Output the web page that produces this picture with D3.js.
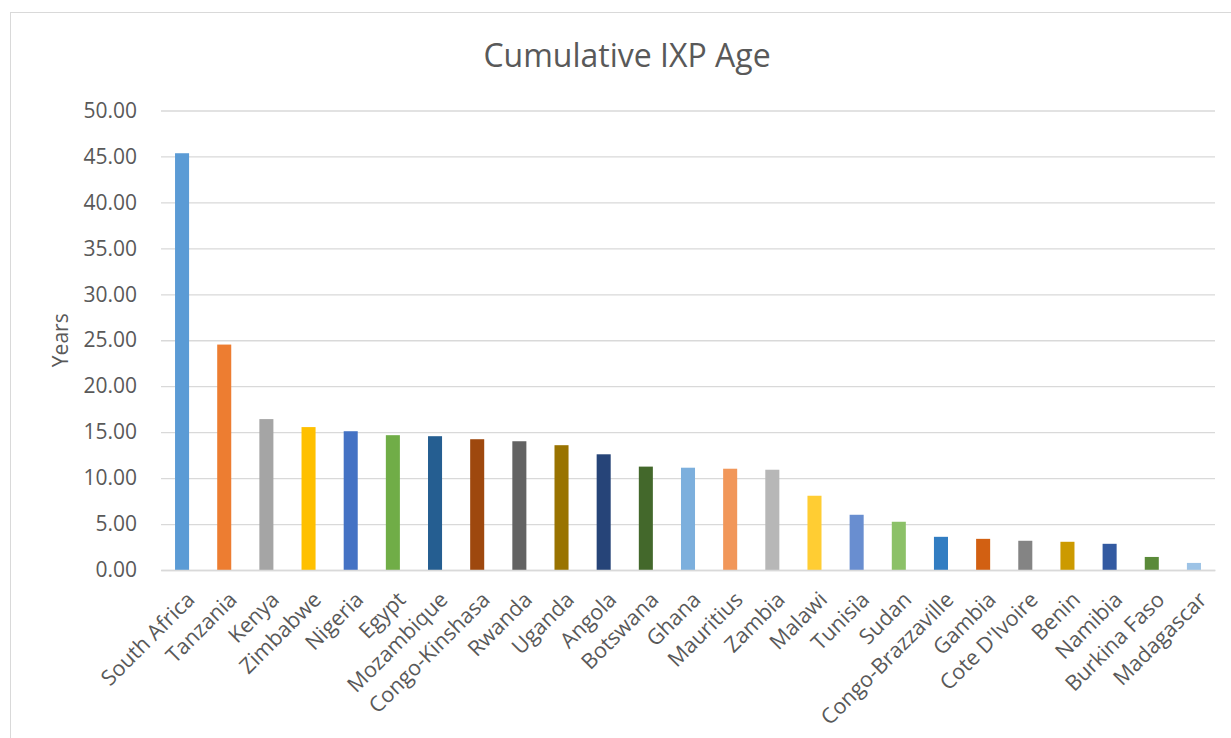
<!DOCTYPE html>
<html>
<head>
<meta charset="utf-8">
<script src="https://cdn.jsdelivr.net/npm/d3@7"></script>
<style>
  html, body { margin: 0; padding: 0; background: #fff; }
  svg { display: block; font-family: "Open Sans", "Liberation Sans", sans-serif; }
</style>
</head>
<body>
<svg id="chart" width="1231" height="738"></svg>
<script>
// Cumulative IXP age per country (years)
const countries = ["South Africa", "Tanzania", "Kenya", "Zimbabwe", "Nigeria", "Egypt",
  "Mozambique", "Congo-Kinshasa", "Rwanda", "Uganda", "Angola", "Botswana", "Ghana",
  "Mauritius", "Zambia", "Malawi", "Tunisia", "Sudan", "Congo-Brazzaville", "Gambia",
  "Cote D'Ivoire", "Benin", "Namibia", "Burkina Faso", "Madagascar"];
const years = [45.35, 24.53, 16.42, 15.55, 15.1, 14.67, 14.56, 14.23, 14.01, 13.58,
  12.59, 11.25, 11.13, 11.02, 10.91, 8.08, 6.01, 5.25, 3.61, 3.39, 3.18, 3.07, 2.85, 1.42, 0.77];
const barColors = ["#5B9BD5", "#ED7D31", "#A5A5A5", "#FFC000", "#4472C4", "#70AD47",
  "#255E91", "#9E480E", "#636363", "#997300", "#264478", "#43682B", "#7CAFDD",
  "#F1975A", "#B7B7B7", "#FFCD33", "#698ED0", "#8CC168", "#327DC2", "#D26012",
  "#848484", "#CC9A00", "#335AA1", "#5A8A39", "#9DC3E6"];
const yTicks = [0, 5, 10, 15, 20, 25, 30, 35, 40, 45, 50];
const chartTitle = "Cumulative IXP Age";
const yTitle = "Years";

const svg = d3.select("#chart");
const plot = { left: 161, right: 1215, top: 110.5, bottom: 570 };

// chart frame
svg.append("rect")
  .attr("x", 10.5).attr("y", 12.5)
  .attr("width", 1240).attr("height", 760)
  .attr("fill", "#fff").attr("stroke", "#d9d9d9").attr("stroke-width", 1);

const x = d3.scaleBand().domain(countries).range([plot.left, plot.right])
  .paddingInner(0.667).paddingOuter(0.333);
const y = d3.scaleLinear().domain([0, 50]).range([plot.bottom, plot.top]);

// gridlines + y tick labels
const yAxis = d3.axisLeft(y).tickValues(yTicks)
  .tickSize(-(plot.right - plot.left)).tickPadding(24)
  .tickFormat(d3.format(".2f"));
const gy = svg.append("g").attr("transform", `translate(${plot.left},0)`).call(yAxis);
gy.select(".domain").remove();
gy.selectAll(".tick line").attr("stroke", "#d9d9d9").attr("stroke-width", 1.3);
gy.selectAll(".tick text").attr("fill", "#595959").attr("font-size", 21)
  .attr("font-family", "Open Sans, sans-serif");

// bars
svg.append("g").selectAll("rect").data(countries).join("rect")
  .attr("x", d => x(d))
  .attr("width", x.bandwidth())
  .attr("y", (d, i) => y(years[i]))
  .attr("height", (d, i) => y(0) - y(years[i]))
  .attr("fill", (d, i) => barColors[i]);

// category axis
const xAxis = d3.axisBottom(x).tickSize(0).tickPadding(0);
const gx = svg.append("g").attr("transform", `translate(0,${plot.bottom})`).call(xAxis);
gx.select(".domain").attr("stroke", "#d9d9d9").attr("stroke-width", 1.3);
gx.selectAll(".tick text")
  .attr("fill", "#595959").attr("font-size", 21.5)
  .attr("font-family", "Open Sans, sans-serif")
  .attr("text-anchor", "end")
  .attr("dy", null).attr("y", 0)
  .attr("transform", "translate(14,31) rotate(-45)");

// title
svg.append("text")
  .attr("x", (plot.left + plot.right) / 2 - 61).attr("y", 67)
  .attr("text-anchor", "middle").attr("fill", "#595959")
  .attr("font-size", 32).text(chartTitle);

// y axis title
svg.append("text")
  .attr("transform", `translate(68,${(plot.top + plot.bottom) / 2}) rotate(-90)`)
  .attr("text-anchor", "middle").attr("fill", "#595959")
  .attr("font-size", 21).text(yTitle);
</script>
</body>
</html>
